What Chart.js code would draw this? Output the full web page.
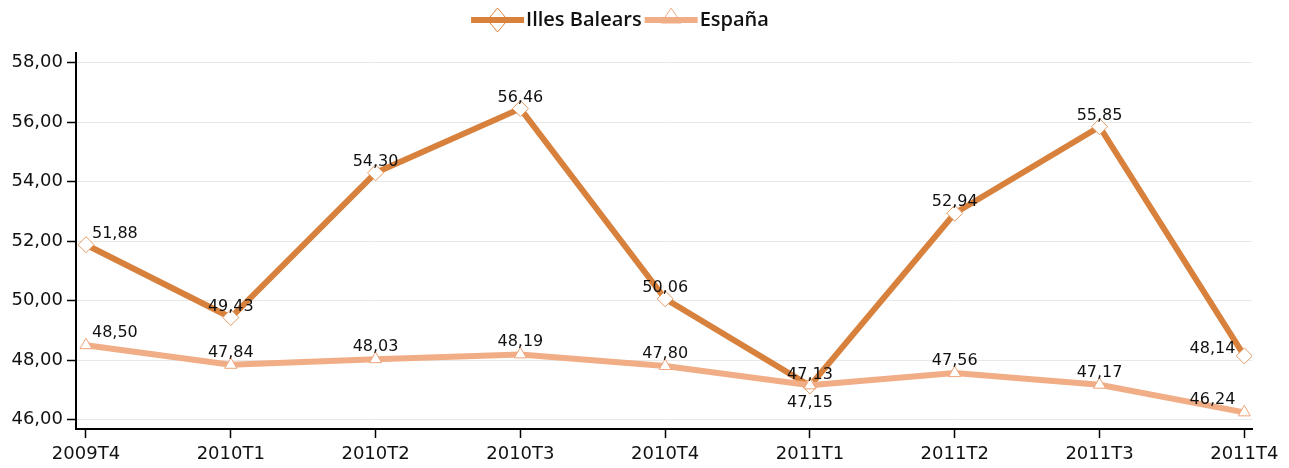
<!DOCTYPE html>
<html>
<head>
<meta charset="utf-8">
<script src="https://cdn.jsdelivr.net/npm/chart.js@4/dist/chart.umd.min.js"></script>
<style>
  html, body { margin: 0; padding: 0; background: #fff; }
  #chart { display: block; }
</style>
</head>
<body>
<canvas id="chart" width="1289" height="468"></canvas>
<script>
const periods = ['2009T4', '2010T1', '2010T2', '2010T3', '2010T4', '2011T1', '2011T2', '2011T3', '2011T4'];
const balearsValues = [51.88, 49.43, 54.30, 56.46, 50.06, 47.13, 52.94, 55.85, 48.14];
const espanaValues = [48.50, 47.84, 48.03, 48.19, 47.80, 47.15, 47.56, 47.17, 46.24];
const seriesNames = ['Illes Balears', 'España'];
const yTicks = [46, 48, 50, 52, 54, 56, 58];

const balearsColor = '#d7813d';
const espanaColor = '#f1ad86';

function formatNumber(v) {
  return v.toFixed(2).replace('.', ',');
}

function toPoints(values) {
  return values.map((v, i) => ({ x: i, y: v }));
}

// value labels next to each point
const valueLabels = {
  id: 'valueLabels',
  afterDatasetsDraw(chart) {
    const ctx = chart.ctx;
    ctx.save();
    ctx.font = '16px "DejaVu Sans"';
    ctx.fillStyle = '#111';

    chart.data.datasets.forEach((ds, di) => {
      const meta = chart.getDatasetMeta(di);
      const last = meta.data.length - 1;

      meta.data.forEach((pt, i) => {
        const value = ds.data[i].y;
        let x = pt.x;
        let y = pt.y + (di === 0 ? -7 : -8);
        let align = 'center';
        let baseline = 'alphabetic';

        if (i === 0) {
          align = 'left';
          x += 6;
        } else if (i === last) {
          align = 'right';
          x -= 9;
          y = pt.y + (di === 0 ? -3 : -8);
        }

        // second series goes under the point when it clashes with the first one
        if (di > 0) {
          const other = chart.data.datasets[0].data[i].y;
          if (Math.abs(other - value) < 0.5) {
            baseline = 'top';
            y = pt.y + 10;
          }
        }

        ctx.textAlign = align;
        ctx.textBaseline = baseline;
        ctx.fillText(formatNumber(value), x, y);
      });
    });
    ctx.restore();
  }
};

// legend: line with marker, then the series name
const lineLegend = {
  id: 'lineLegend',
  afterDraw(chart) {
    const ctx = chart.ctx;
    const iconW = 53;
    const cy = 20;
    ctx.save();
    ctx.font = '600 20px "Open Sans"';

    const items = chart.data.datasets.map((ds) => ({
      label: ds.label,
      color: ds.borderColor,
      style: ds.pointStyle,
      textW: ctx.measureText(ds.label).width,
    }));
    const total = items.reduce((s, it) => s + iconW + 2 + it.textW, 0) + 3 * (items.length - 1);
    let x = 620 - total / 2;

    items.forEach((it) => {
      ctx.strokeStyle = it.color;
      ctx.lineWidth = 6;
      ctx.beginPath();
      ctx.moveTo(x, cy);
      ctx.lineTo(x + iconW, cy);
      ctx.stroke();

      const mx = x + iconW / 2;
      ctx.lineWidth = 1;
      ctx.beginPath();
      if (it.style === 'rectRot') {
        ctx.moveTo(mx, cy - 12);
        ctx.lineTo(mx + 10, cy);
        ctx.lineTo(mx, cy + 12);
        ctx.lineTo(mx - 10, cy);
      } else {
        ctx.moveTo(mx, cy - 12);
        ctx.lineTo(mx + 10, cy + 3);
        ctx.lineTo(mx - 10, cy + 3);
      }
      ctx.closePath();
      ctx.stroke();

      ctx.fillStyle = '#111';
      ctx.textAlign = 'left';
      ctx.textBaseline = 'middle';
      ctx.fillText(it.label, x + iconW + 2, cy);
      x += iconW + 2 + it.textW + 3;
    });
    ctx.restore();
  }
};

Chart.defaults.font.family = '"DejaVu Sans"';
Chart.defaults.color = '#111';

new Chart(document.getElementById('chart'), {
  type: 'line',
  data: {
    datasets: [
      {
        label: seriesNames[0],
        data: toPoints(balearsValues),
        borderColor: balearsColor,
        borderWidth: 6,
        pointStyle: 'rectRot',
        pointRadius: 8,
        pointBorderWidth: 1,
        pointBorderColor: '#e29a62',
        pointBackgroundColor: '#fff',
        tension: 0,
        order: 1,
      },
      {
        label: seriesNames[1],
        data: toPoints(espanaValues),
        borderColor: espanaColor,
        borderWidth: 6,
        pointStyle: 'triangle',
        pointRadius: 7,
        pointBorderWidth: 1,
        pointBorderColor: '#eea47a',
        pointBackgroundColor: '#fff',
        tension: 0,
        order: 0,
      },
    ],
  },
  options: {
    responsive: false,
    animation: false,
    layout: { padding: { top: 53, right: 37, bottom: 0, left: 0 } },
    plugins: {
      legend: { display: false },
      tooltip: { enabled: false },
    },
    scales: {
      x: {
        type: 'linear',
        min: -0.069,
        max: 8.053,
        afterBuildTicks: (scale) => {
          scale.ticks = periods.map((p, i) => ({ value: i }));
        },
        afterFit: (scale) => {
          scale.height = 39;
        },
        ticks: {
          callback: (v) => periods[v],
          font: { size: 18 },
          padding: 6,
          maxRotation: 0,
          autoSkip: false,
        },
        grid: {
          drawOnChartArea: false,
          tickLength: 9,
          tickColor: '#000',
          tickWidth: 1.5,
        },
        border: { color: '#000', width: 2 },
      },
      y: {
        min: 45.68,
        max: 58.33,
        afterBuildTicks: (scale) => {
          scale.ticks = yTicks.map((v) => ({ value: v }));
        },
        afterFit: (scale) => {
          scale.width = 76;
        },
        ticks: {
          callback: (v) => formatNumber(v),
          font: { size: 18 },
          padding: 4,
        },
        grid: {
          color: '#e8e8e8',
          lineWidth: 1,
          tickLength: 9,
          tickColor: '#000',
          tickWidth: 1.5,
        },
        border: { color: '#000', width: 2 },
      },
    },
  },
  plugins: [valueLabels, lineLegend],
});
</script>
</body>
</html>
